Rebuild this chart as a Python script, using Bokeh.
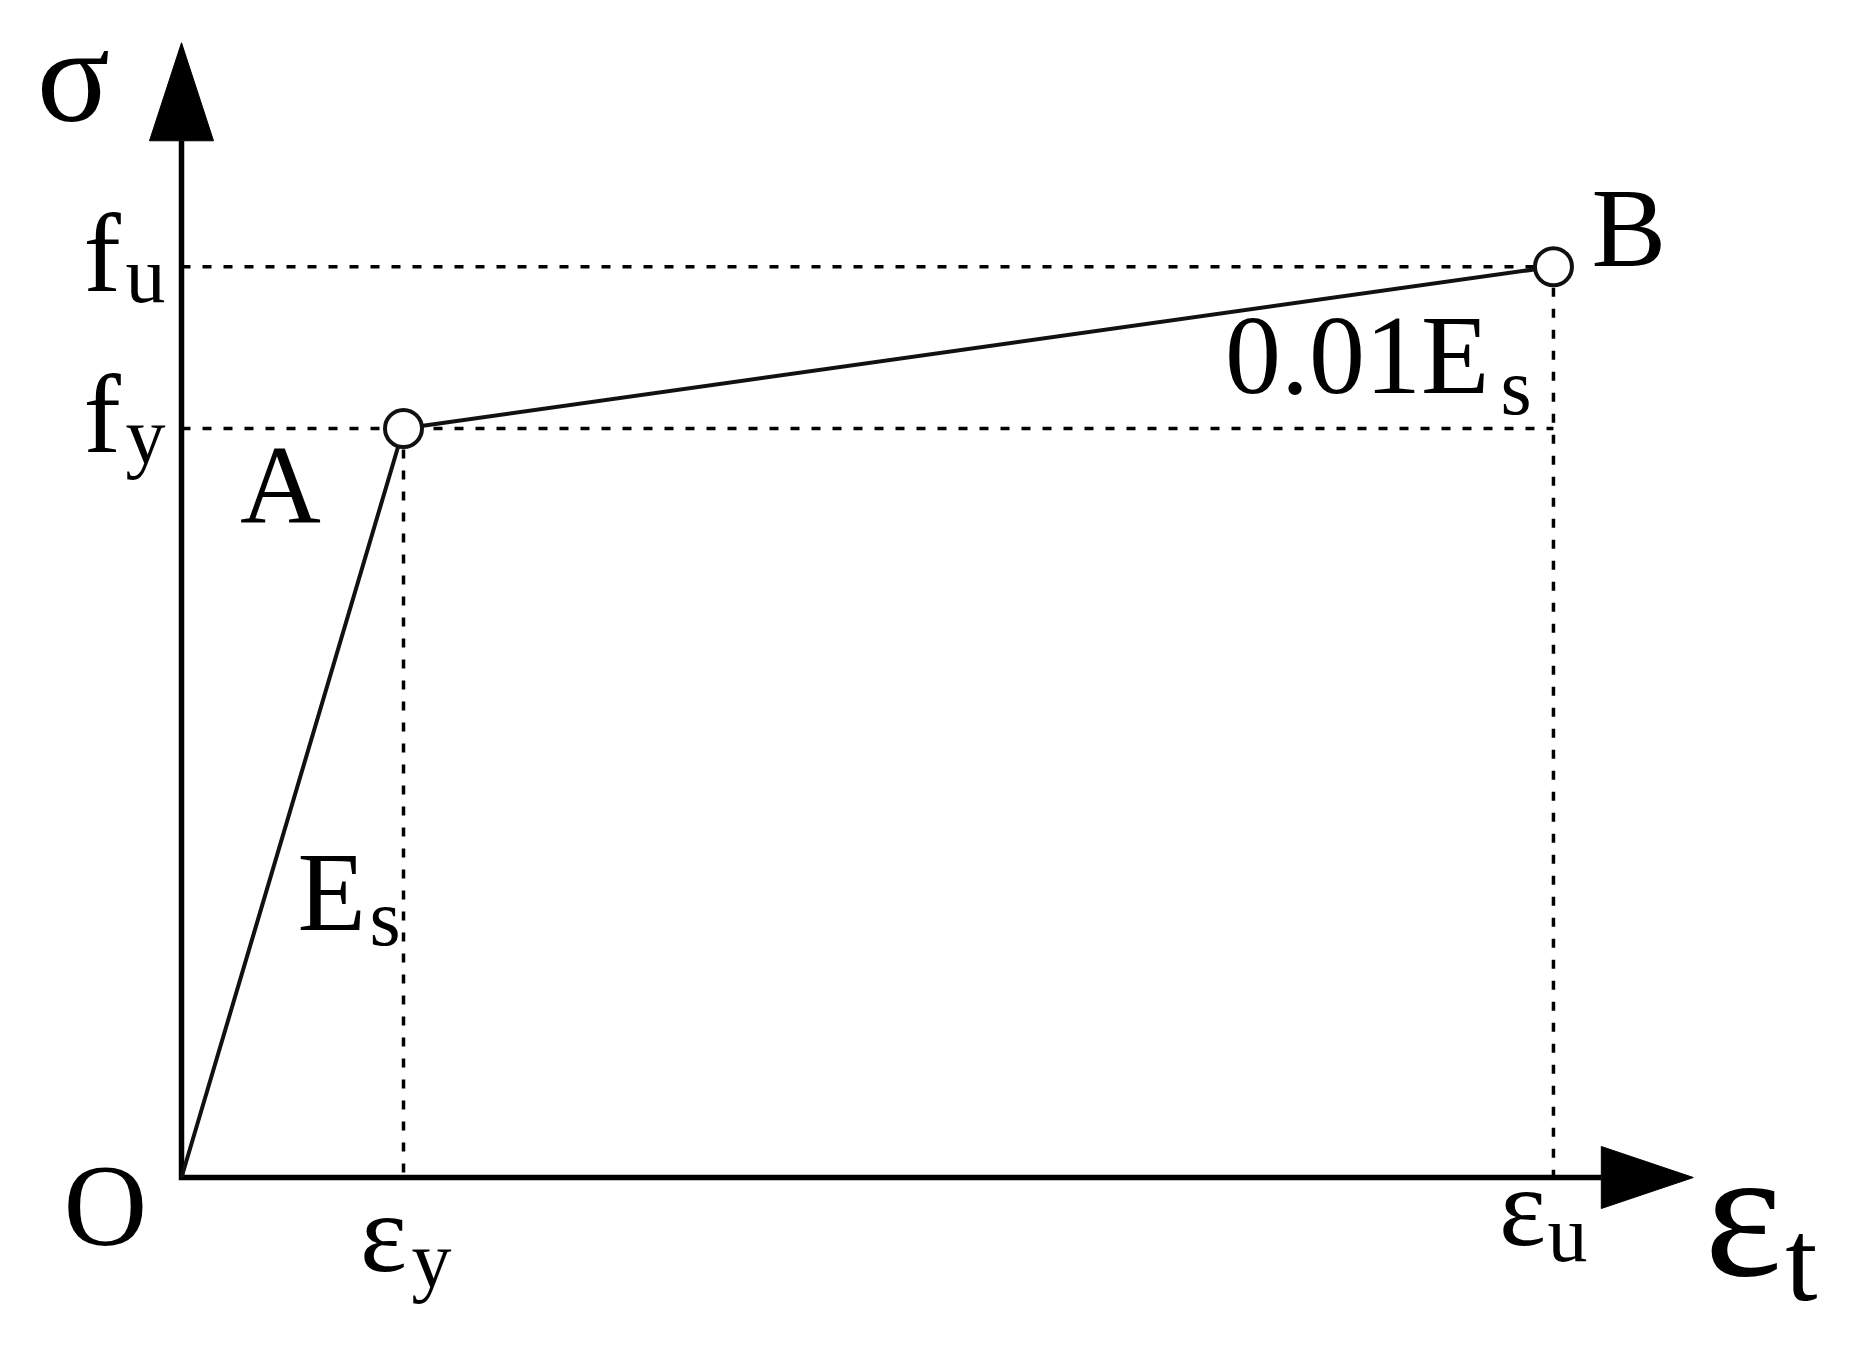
from bokeh.plotting import figure
from bokeh.models import Range1d
from bokeh.core.properties import value
from bokeh.embed import file_html
from bokeh.resources import INLINE

# ---- data (schematic bilinear steel model) ----
point_names = ["O", "A", "B"]
strain = [0.0, 0.2, 1.236]        # 0, eps_y, eps_u
stress = [0.0, 1.0, 1.216]        # 0, f_y, f_u
strain_axis_max = 1.362
stress_axis_max = 1.515

# ---- layout (pixels) ----
W, H = 1834, 1333
PX_X, PX_Y = 1110.0, 749.0        # px per unit
ORIGIN_PX = (181, 156)            # origin from left / from bottom of the canvas

x0 = -ORIGIN_PX[0] / PX_X
y0 = -ORIGIN_PX[1] / PX_Y
p = figure(width=W, height=H, output_backend="svg", toolbar_location=None,
           x_range=Range1d(x0, x0 + W / PX_X), y_range=Range1d(y0, y0 + H / PX_Y),
           min_border=0, outline_line_color=None, background_fill_color="white",
           border_fill_color="white")
p.axis.visible = False
p.grid.visible = False

FONT = value("Liberation Serif")

eps_y, eps_u = strain[1], strain[2]
f_y, f_u = stress[1], stress[2]

# dotted guide lines
dot = dict(line_color="black", line_width=3.5, line_dash="9 12")
p.line([0, eps_u], [f_u, f_u], **dot)
p.line([0, eps_u], [f_y, f_y], **dot)
p.line([eps_y, eps_y], [f_y, 0], **dot)
p.line([eps_u, eps_u], [f_u, 0], **dot)

# axes with arrow heads
head_len_y, head_half_y = 98 / PX_Y, 32 / PX_X
head_len_x, head_half_x = 92 / PX_X, 31 / PX_Y
p.line([0, 0, strain_axis_max - head_len_x], [stress_axis_max - head_len_y, 0, 0],
       line_color="black", line_width=5.5, line_join="miter")
p.patch([0, -head_half_y, head_half_y],
        [stress_axis_max, stress_axis_max - head_len_y, stress_axis_max - head_len_y],
        fill_color="black", line_color="black", line_width=1)
p.patch([strain_axis_max, strain_axis_max - head_len_x, strain_axis_max - head_len_x],
        [0, head_half_x, -head_half_x],
        fill_color="black", line_color="black", line_width=1)

# stress-strain curve
p.line(strain, stress, line_color="#111111", line_width=4)
p.scatter(strain[1:], stress[1:], size=37, marker="circle", fill_color="white",
          line_color="#111111", line_width=4)

K = 0.365  # baseline correction (fraction of font size)


def label(x, y, t, dx, base, size, align="left"):
    # base: distance in px from the anchor down to the text baseline
    p.text(x=[x], y=[y], text=[t], x_offset=dx, y_offset=base - K * size,
           text_font=FONT, text_font_size=f"{size}px", text_align=align,
           text_baseline="alphabetic", text_color="black")


MAIN, SUB = 112, 80

# axis titles
label(0, stress_axis_max, "σ", -108, 82, 136, "center")
label(strain_axis_max, 0, "ε", 50, 103, 185, "center")
label(strain_axis_max, 0, "t", 92, 126, 116)

# stress ticks
label(0, f_u, "f", -98, 27, MAIN)
label(0, f_u, "u", -56, 37, SUB)
label(0, f_y, "f", -98, 26, MAIN)
label(0, f_y, "y", -56, 37, SUB)

# strain ticks
label(eps_y, 0, "ε", -20, 96, MAIN, "center")
label(eps_y, 0, "y", 8, 112, SUB)
label(eps_u, 0, "ε", -31, 70, MAIN, "center")
label(eps_u, 0, "u", -6, 86, SUB)

# points
label(strain[0], stress[0], point_names[0], -76, 71, 116, "center")
label(strain[1], stress[1], point_names[1], -123, 97, MAIN, "center")
label(strain[2], stress[2], point_names[2], 38, 2, MAIN)

# moduli
label(eps_y / 2, f_y / 2, "E", 5, 130, MAIN)
label(eps_y / 2, f_y / 2, "s", 77, 144, SUB)
label(eps_u, f_u, "0.01E", -64, 129, MAIN, "right")
label(eps_u, f_u, "s", -53, 149, SUB)

open("out.html", "w").write(file_html(p, INLINE))
